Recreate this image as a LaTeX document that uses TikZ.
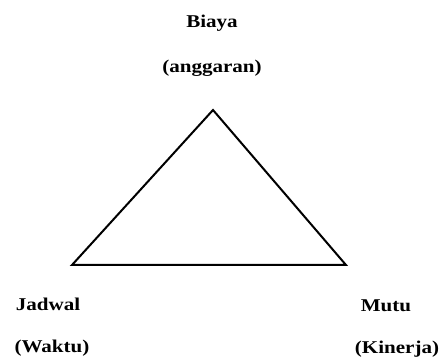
\documentclass[tikz,border=0pt]{standalone}
\usepackage{fontspec}
\setmainfont{Liberation Serif}
\usepackage{tikz}
\usetikzlibrary{positioning}

\begin{document}
\begin{tikzpicture}[
    x=0.75pt, y=-0.75pt,
    lbl/.style={anchor=base, inner sep=0pt, xscale=1.17, font=\bfseries\fontsize{13.5}{16}\selectfont},
    edge/.style={draw=black, line width=1.5pt, line join=miter},
  ]
  \useasboundingbox (0,0) rectangle (444,360);

  % Corners of the triangle
  \coordinate (top) at (213,110);
  \coordinate (left) at (72,265);
  \coordinate (right) at (346,265);

  % Triangle
  \draw[edge] (top) -- (left) -- (right) -- cycle;

  % Labels
  \node[lbl] (biaya) at (212,28) {Biaya};
  \node[lbl] (anggaran) at (212,73) {(anggaran)};
  \node[lbl] (jadwal) at (48,311) {Jadwal};
  \node[lbl] (waktu) at (52,353) {(Waktu)};
  \node[lbl] (mutu) at (386,312) {Mutu};
  \node[lbl] (kinerja) at (397,354) {(Kinerja)};

\end{tikzpicture}
\end{document}
